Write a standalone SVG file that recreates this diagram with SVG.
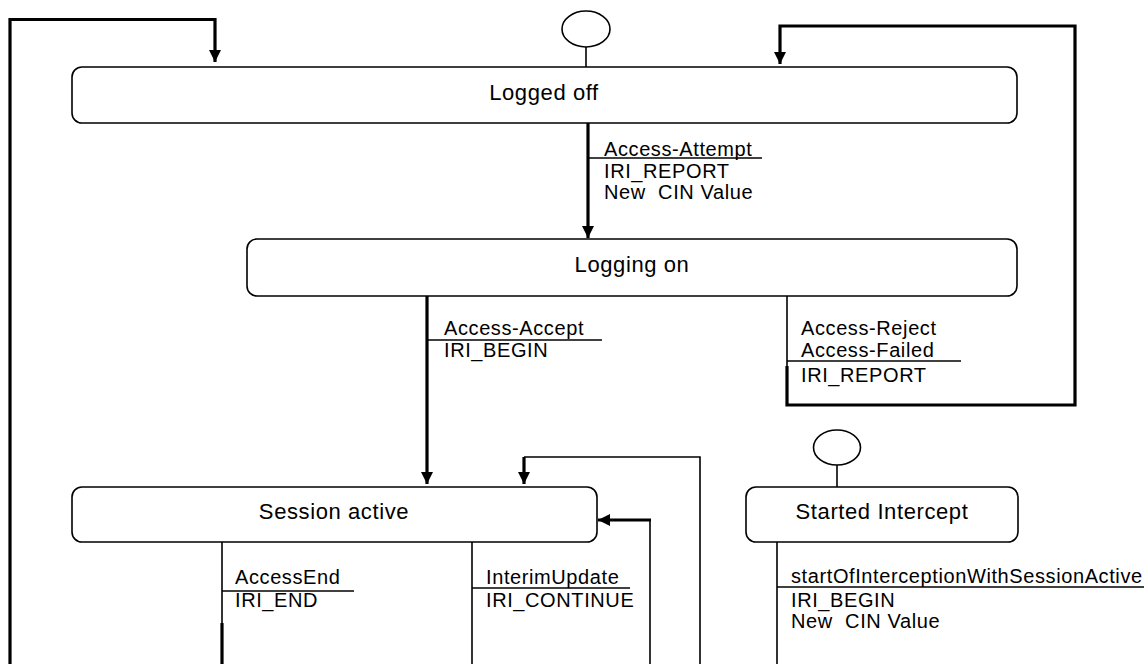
<svg xmlns="http://www.w3.org/2000/svg" width="1144" height="664" viewBox="0 0 1144 664">
<style>
.box{fill:#fff;stroke:#000;stroke-width:1.6}
.st{font-family:"Liberation Sans",Arial,sans-serif;font-size:22px;letter-spacing:0.6px;fill:#000;text-anchor:middle}
.lb{font-family:"Liberation Sans",Arial,sans-serif;font-size:20px;letter-spacing:0.6px;fill:#000;white-space:pre}
.thick{fill:none;stroke:#000;stroke-width:3.2}
.thin{fill:none;stroke:#000;stroke-width:1.6}
.init{fill:#fff;stroke:#000;stroke-width:1.6}
</style>
<defs>
<marker id="ah" markerUnits="userSpaceOnUse" markerWidth="12" markerHeight="12" viewBox="0 0 12 12" refX="12" refY="6" orient="auto">
<path d="M0,0 L12,6 L0,12 z" fill="#000"/>
</marker>
</defs>
<g id="connectors">
<path class="thick" d="M10,664 V19.5 H215 V62" marker-end="url(#ah)"/>
<path class="thick" d="M787,366 V405 H1075 V26 H780 V64" marker-end="url(#ah)"/>
<path class="thin" d="M787,296 V366"/>
<path class="thin" d="M787,361 H961"/>
<path class="thick" d="M588,123 V238" marker-end="url(#ah)"/>
<path class="thin" d="M588,158 H762"/>
<path class="thick" d="M427,296 V484" marker-end="url(#ah)"/>
<path class="thin" d="M427,340 H602"/>
<path class="thin" d="M700,664 V457 H524"/>
<path class="thick" d="M524,457 V484" marker-end="url(#ah)"/>
<path class="thin" d="M650,664 V520"/>
<path class="thick" d="M651,520 H598" marker-end="url(#ah)"/>
<path class="thin" d="M222,542 V623"/>
<path class="thick" d="M222,623 V664"/>
<path class="thin" d="M222,591 H354"/>
<path class="thin" d="M472,542 V664"/>
<path class="thin" d="M472,588 H630"/>
<path class="thin" d="M777,542 V664"/>
<path class="thin" d="M777,587 H1144"/>
<path class="thin" d="M586,47 V67"/>
<path class="thin" d="M837,465 V487"/>
</g>
<g id="init1"><ellipse class="init" cx="586" cy="29" rx="24" ry="18"/></g>
<g id="init2"><ellipse class="init" cx="837" cy="447.5" rx="23.5" ry="17.5"/></g>
<g id="logged-off">
<rect class="box" x="72" y="67" width="945" height="56" rx="10"/>
<text class="st" x="544" y="100">Logged off</text>
</g>
<g id="logging-on">
<rect class="box" x="247" y="239" width="770" height="57" rx="10"/>
<text class="st" x="632" y="272">Logging on</text>
</g>
<g id="session-active">
<rect class="box" x="72" y="487" width="525" height="55" rx="10"/>
<text class="st" x="334" y="519">Session active</text>
</g>
<g id="started-intercept">
<rect class="box" x="746" y="487" width="272" height="55" rx="10"/>
<text class="st" x="882" y="519">Started Intercept</text>
</g>
<g id="labels">
<text class="lb" x="604" y="156">Access-Attempt</text>
<text class="lb" x="604" y="178">IRI_REPORT</text>
<text class="lb" x="604" y="199">New  CIN Value</text>
<text class="lb" x="444" y="335">Access-Accept</text>
<text class="lb" x="444" y="357">IRI_BEGIN</text>
<text class="lb" x="801" y="335">Access-Reject</text>
<text class="lb" x="801" y="357">Access-Failed</text>
<text class="lb" x="801" y="382">IRI_REPORT</text>
<text class="lb" x="235" y="584">AccessEnd</text>
<text class="lb" x="235" y="607">IRI_END</text>
<text class="lb" x="486" y="584">InterimUpdate</text>
<text class="lb" x="486" y="607">IRI_CONTINUE</text>
<text class="lb" x="791" y="583">startOfInterceptionWithSessionActive</text>
<text class="lb" x="791" y="607">IRI_BEGIN</text>
<text class="lb" x="791" y="628">New  CIN Value</text>
</g>
</svg>
